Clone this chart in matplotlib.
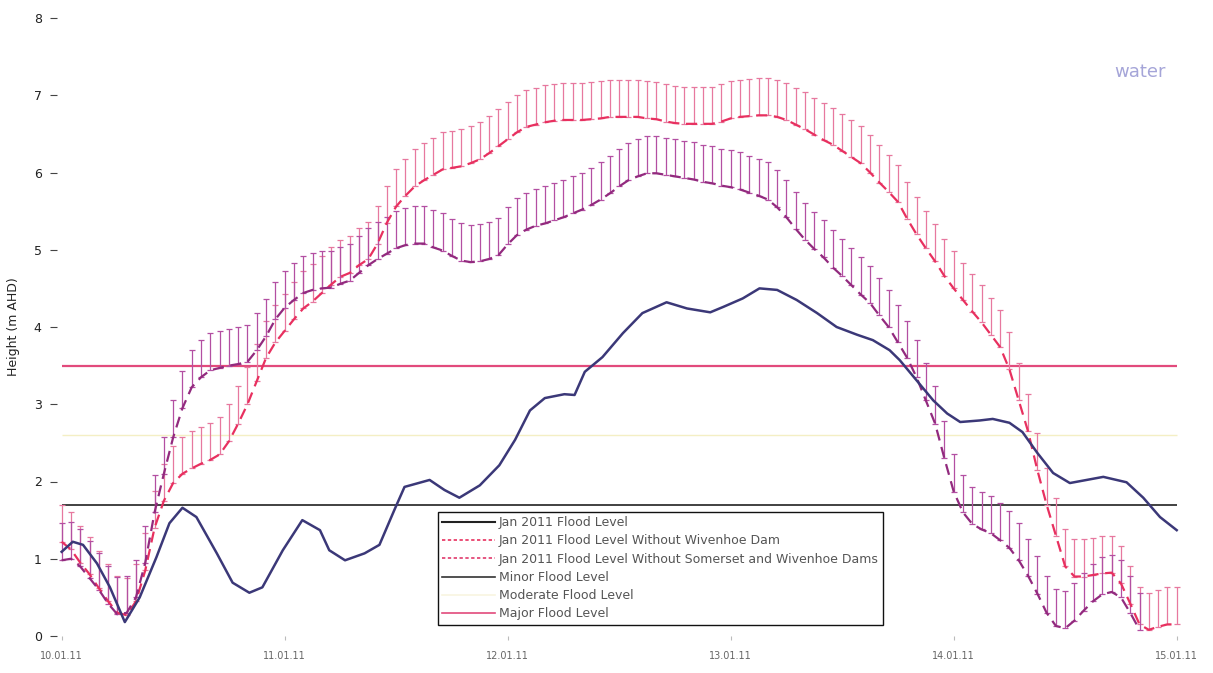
import numpy as np
import matplotlib
matplotlib.use("Agg")
import matplotlib.pyplot as plt

# hours after 10/01/11 00:00
actual_hours = [0, 1.2, 2.3, 3.8, 5.2, 6.8, 8.4, 10.2, 11.6, 13.0, 14.5, 16.7, 18.4, 20.2,
                21.6, 23.8, 25.9, 27.8, 28.8, 30.5, 32.6, 34.2, 35.8, 36.9, 39.6, 41.2,
                42.8, 45.0, 47.1, 48.8, 50.4, 52.0, 54.1, 55.2, 56.3, 58.2, 60.4, 62.5,
                65.1, 67.3, 69.8, 71.2, 73.3, 75.1, 77.0, 79.1, 81.3, 83.4, 85.6, 87.3,
                89.1, 90.2, 92.0, 93.8, 95.3, 96.7, 98.8, 100.2, 102.0, 103.4, 105.0,
                106.7, 108.5, 110.3, 112.1, 114.6, 116.4, 118.2, 120.0]
actual_level = [1.09, 1.22, 1.18, 0.94, 0.63, 0.18, 0.50, 1.02, 1.46, 1.66, 1.54, 1.07, 0.69,
                0.56, 0.63, 1.11, 1.50, 1.37, 1.11, 0.98, 1.07, 1.18, 1.63, 1.93, 2.02, 1.89,
                1.79, 1.95, 2.21, 2.54, 2.92, 3.08, 3.13, 3.12, 3.42, 3.61, 3.92, 4.18,
                4.32, 4.24, 4.19, 4.26, 4.37, 4.50, 4.48, 4.35, 4.18, 4.00, 3.90, 3.83,
                3.70, 3.57, 3.31, 3.05, 2.88, 2.77, 2.79, 2.81, 2.76, 2.64, 2.37,
                2.11, 1.98, 2.02, 2.06, 1.99, 1.79, 1.54, 1.37]

# hourly model results
no_wivenhoe = [0.98, 1.00, 0.90, 0.75, 0.60, 0.42, 0.28, 0.30, 0.50, 0.95,
               1.60, 2.10, 2.57, 2.95, 3.22, 3.35, 3.44, 3.47, 3.50, 3.52,
               3.55, 3.70, 3.88, 4.10, 4.25, 4.35, 4.44, 4.48, 4.50, 4.51,
               4.56, 4.60, 4.70, 4.80, 4.88, 4.95, 5.02, 5.06, 5.08, 5.08,
               5.03, 4.99, 4.92, 4.86, 4.84, 4.85, 4.88, 4.93, 5.07, 5.19,
               5.26, 5.31, 5.34, 5.38, 5.42, 5.47, 5.52, 5.58, 5.65, 5.73,
               5.82, 5.90, 5.95, 5.99, 5.99, 5.97, 5.95, 5.93, 5.91, 5.88,
               5.86, 5.83, 5.81, 5.78, 5.74, 5.70, 5.65, 5.55, 5.42, 5.27,
               5.13, 5.01, 4.90, 4.77, 4.66, 4.54, 4.42, 4.31, 4.15, 4.00,
               3.80, 3.60, 3.35, 3.05, 2.75, 2.30, 1.87, 1.60, 1.45, 1.38,
               1.33, 1.24, 1.14, 0.98, 0.78, 0.55, 0.30, 0.13, 0.10, 0.20,
               0.33, 0.45, 0.54, 0.57, 0.50, 0.30, 0.08]
no_somerset_wivenhoe = [1.22, 1.12, 0.95, 0.80, 0.62, 0.45, 0.30, 0.27, 0.45, 0.85,
                        1.40, 1.75, 1.98, 2.10, 2.17, 2.23, 2.28, 2.35, 2.52, 2.75,
                        3.00, 3.30, 3.60, 3.80, 3.95, 4.10, 4.24, 4.33, 4.44, 4.55,
                        4.65, 4.70, 4.80, 4.88, 5.08, 5.35, 5.56, 5.70, 5.82, 5.90,
                        5.97, 6.04, 6.06, 6.08, 6.12, 6.17, 6.25, 6.34, 6.43, 6.52,
                        6.59, 6.62, 6.65, 6.67, 6.68, 6.68, 6.68, 6.69, 6.70, 6.72,
                        6.72, 6.72, 6.72, 6.70, 6.69, 6.66, 6.64, 6.63, 6.63, 6.63,
                        6.63, 6.66, 6.70, 6.72, 6.73, 6.74, 6.74, 6.72, 6.68, 6.62,
                        6.56, 6.49, 6.42, 6.36, 6.28, 6.20, 6.12, 6.00, 5.87, 5.75,
                        5.62, 5.40, 5.20, 5.02, 4.85, 4.66, 4.50, 4.35, 4.20, 4.06,
                        3.90, 3.74, 3.45, 3.05, 2.65, 2.15, 1.70, 1.30, 0.90, 0.77,
                        0.77, 0.79, 0.81, 0.82, 0.68, 0.42, 0.15, 0.08, 0.12, 0.15,
                        0.15]
err_no_wivenhoe = 0.48
err_no_somerset_wivenhoe = 0.48

minor_level = 1.7
moderate_level = 2.6
major_level = 3.5

day_ticks = [0, 24, 48, 72, 96, 120]
day_labels = ["10.01.11", "11.01.11", "12.01.11", "13.01.11", "14.01.11", "15.01.11"]
y_ticks = [0, 1, 2, 3, 4, 5, 6, 7, 8]

fig = plt.figure(figsize=(12.13, 6.73), dpi=100)
ax = fig.add_axes([57 / 1213, 37 / 673, 1129 / 1213, 618 / 673])

h_w = np.arange(len(no_wivenhoe))
h_sw = np.arange(len(no_somerset_wivenhoe))

ax.hlines(moderate_level, 0, 120, color="#f4efc4", lw=1.0)
ax.hlines(minor_level, 0, 120, color="#333333", lw=1.3)
ax.hlines(major_level, 0, 120, color="#e24a7c", lw=1.6)

ax.errorbar(h_sw, no_somerset_wivenhoe,
            yerr=[np.zeros(len(h_sw)), np.full(len(h_sw), err_no_somerset_wivenhoe)],
            fmt="none", ecolor="#e7789f", elinewidth=0.9, capsize=2.5, capthick=0.9)
ax.errorbar(h_w, no_wivenhoe,
            yerr=[np.zeros(len(h_w)), np.full(len(h_w), err_no_wivenhoe)],
            fmt="none", ecolor="#b34fa2", elinewidth=0.9, capsize=2.5, capthick=0.9)

ax.plot(h_sw, no_somerset_wivenhoe, color="#e8305f", lw=1.6, dashes=(5, 3))
ax.plot(h_w, no_wivenhoe, color="#922a7e", lw=1.6, dashes=(5, 3))
ax.plot(actual_hours, actual_level, color="#3b3878", lw=1.8)

ax.set_xlim(-0.5, 121)
ax.set_ylim(0, 8)
for s in ax.spines.values():
    s.set_visible(False)

ax.set_xticks(day_ticks)
ax.set_xticklabels(day_labels, fontsize=7, color="#666666")
ax.tick_params(axis="x", length=3, color="#bbbbbb", pad=8)
ax.set_yticks(y_ticks)
ax.set_yticklabels([str(v) for v in y_ticks], fontsize=9, color="#222222")
ax.tick_params(axis="y", length=5, color="#444444", pad=6)
ax.set_ylabel("Height (m AHD)", fontsize=9, color="#222222", labelpad=10)

handles = [
    plt.Line2D([], [], color="#222222", lw=1.5),
    plt.Line2D([], [], color="#e8305f", lw=1.2, dashes=(2, 1.5)),
    plt.Line2D([], [], color="#e03a6c", lw=1.2, dashes=(2, 1.5)),
    plt.Line2D([], [], color="#333333", lw=1.2),
    plt.Line2D([], [], color="#f8f5e0", lw=1.2),
    plt.Line2D([], [], color="#e24a7c", lw=1.2),
]
labels = ["Jan 2011 Flood Level",
          "Jan 2011 Flood Level Without Wivenhoe Dam",
          "Jan 2011 Flood Level Without Somerset and Wivenhoe Dams",
          "Minor Flood Level",
          "Moderate Flood Level",
          "Major Flood Level"]
leg = ax.legend(handles, labels, loc="lower left", bbox_to_anchor=(0.332, 0.008),
                fontsize=9, frameon=True, fancybox=False, framealpha=1,
                edgecolor="#111111", handlelength=4.2, handletextpad=0.3,
                labelspacing=0.42, borderpad=0.35, labelcolor="#555555")
leg.get_frame().set_linewidth(1.0)

fig.text(0.94, 0.885, "water", fontsize=13, color="#a5a5d8", ha="center")

fig.savefig("out.png", dpi=100)
